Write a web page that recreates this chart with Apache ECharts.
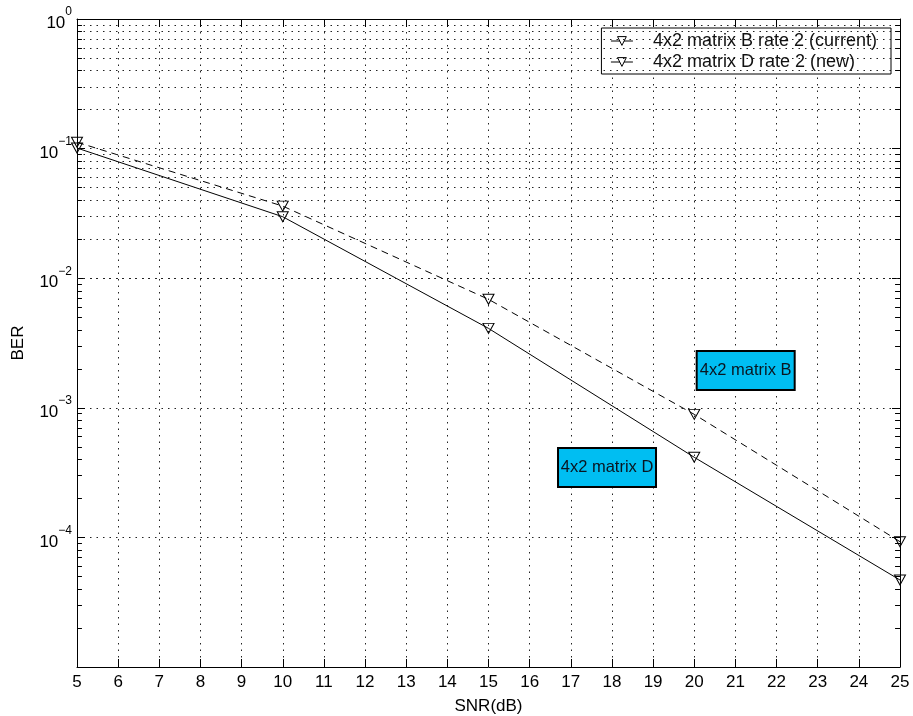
<!DOCTYPE html>
<html>
<head>
<meta charset="utf-8">
<script src="https://cdn.jsdelivr.net/npm/echarts@6/dist/echarts.min.js"></script>
<style>
  html, body { margin: 0; padding: 0; background: #fff; }
  #main { width: 913px; height: 716px; }
</style>
</head>
<body>
<div id="main"></div>
<script>
// SNR points (dB)
var snr = [5, 10, 15, 20, 25];
// BER readings
var berB = [0.112, 0.036, 0.00687, 0.00089, 0.0000927];
var berD = [0.101, 0.0298, 0.0041, 0.000415, 0.0000469];
var nameB = '4x2 matrix B rate 2 (current)';
var nameD = '4x2 matrix D rate 2 (new)';
// text boxes, in data units [snr, ber]
var boxB = [21.25, 0.00194];
var boxD = [17.88, 0.000346];
var yMin = 1e-5, yMax = 1;

// minor decade lines 2..9 x 10^k
var minorVals = [];
for (var e = -5; e < 0; e++) {
  for (var m = 2; m <= 9; m++) {
    minorVals.push(m * Math.pow(10, e));
  }
}

var dotted = [1.5, 5];
var FONT = '"Liberation Sans", Arial, sans-serif';

function pairs(xs, ys) {
  return xs.map(function (x, i) { return [x, ys[i]]; });
}

function yLabel(value) {
  var exp = Math.round(Math.log10(value));
  if (exp === -5) return '';
  return '{b|10}{s|' + (exp === 0 ? '0' : '\u2212' + (-exp)) + '}';
}

function boxMark(coord, text) {
  return {
    silent: true,
    symbol: 'rect',
    symbolSize: 1,
    itemStyle: { color: 'rgba(0,0,0,0)', borderWidth: 0 },
    label: {
      show: true, position: 'inside', formatter: text,
      fontSize: 16.5, color: '#0a1520', fontFamily: FONT,
      backgroundColor: '#00BEF2', borderColor: '#000', borderWidth: 2,
      width: 96, height: 37, lineHeight: 37, align: 'center', verticalAlign: 'middle', padding: 0
    },
    data: [{ coord: coord }]
  };
}

var myChart = echarts.init(document.getElementById('main'));
var option = {
  animation: false,
  backgroundColor: '#fff',
  textStyle: { fontFamily: FONT },
  grid: { left: 77, right: 13, top: 19, bottom: 49, outerBoundsMode: 'none', containLabel: false },
  legend: {
    orient: 'vertical',
    right: 22,
    top: 28,
    data: [nameB, nameD],
    backgroundColor: '#fff',
    borderColor: '#000',
    borderWidth: 1,
    borderRadius: 0,
    padding: [4, 14, 3, 9],
    itemGap: 3,
    itemWidth: 22,
    itemHeight: 11,
    itemStyle: { color: '#fff', borderColor: '#000', borderWidth: 1 },
    lineStyle: { type: 'solid', width: 1, color: '#000' },
    textStyle: { fontSize: 18, color: '#111', fontFamily: FONT, padding: [0, 0, 0, 15] }
  },
  xAxis: [
    {
      type: 'value', min: 5, max: 25, interval: 1,
      name: 'SNR(dB)', nameLocation: 'middle', nameGap: 31,
      nameTextStyle: { fontSize: 17, color: '#000', fontFamily: FONT },
      axisLine: { show: true, lineStyle: { color: '#000', width: 1 } },
      axisTick: { show: true, inside: true, length: 8, lineStyle: { color: '#000' } },
      axisLabel: { fontSize: 17, color: '#000', margin: 7, fontFamily: FONT },
      splitLine: { show: true, lineStyle: { type: dotted, color: '#222', width: 1 } }
    },
    {
      type: 'value', min: 5, max: 25, interval: 1, position: 'top',
      axisLine: { show: true, lineStyle: { color: '#000', width: 1 } },
      axisTick: { show: true, inside: true, length: 8, lineStyle: { color: '#000' } },
      axisLabel: { show: false },
      splitLine: { show: false }
    }
  ],
  yAxis: [
    {
      type: 'log', logBase: 10, min: yMin, max: yMax,
      name: 'BER', nameLocation: 'middle', nameGap: 50,
      nameTextStyle: { fontSize: 17, color: '#000', fontFamily: FONT },
      axisLine: { show: true, lineStyle: { color: '#000', width: 1 } },
      axisTick: { show: true, inside: true, length: 8, lineStyle: { color: '#000' } },
      axisLabel: {
        formatter: yLabel, margin: 5,
        rich: {
          b: { fontSize: 17, color: '#000', lineHeight: 26, verticalAlign: 'bottom', fontFamily: FONT },
          s: { fontSize: 12, color: '#000', lineHeight: 12, verticalAlign: 'top', fontFamily: FONT }
        }
      },
      splitLine: { show: true, lineStyle: { type: dotted, color: '#222', width: 1 } }
    },
    {
      type: 'log', logBase: 10, min: yMin, max: yMax, position: 'right',
      axisLine: { show: true, lineStyle: { color: '#000', width: 1 } },
      axisTick: { show: true, inside: true, length: 8, lineStyle: { color: '#000' } },
      axisLabel: { show: false },
      splitLine: { show: false }
    }
  ],
  series: [
    {
      // minor grid lines
      name: 'minor',
      type: 'line',
      data: [],
      silent: true,
      z: 1,
      markLine: {
        silent: true,
        symbol: 'none',
        label: { show: false },
        lineStyle: { type: dotted, color: '#222', width: 1 },
        data: minorVals.map(function (v) { return { yAxis: v }; })
      }
    },
    {
      // minor ticks, left and right
      name: 'minorTicks',
      type: 'line',
      data: [],
      silent: true,
      z: 1,
      markLine: {
        silent: true,
        symbol: 'none',
        label: { show: false },
        lineStyle: { type: 'solid', color: '#000', width: 1 },
        data: minorVals.map(function (v) { return [{ coord: [5, v] }, { coord: [5.12, v] }]; })
          .concat(minorVals.map(function (v) { return [{ coord: [24.88, v] }, { coord: [25, v] }]; }))
      }
    },
    {
      name: nameB,
      type: 'line',
      data: pairs(snr, berB),
      symbol: 'triangle',
      symbolRotate: 180,
      symbolSize: [11, 10],
      showAllSymbol: true,
      z: 3,
      lineStyle: { color: '#000', width: 1, type: [7, 5] },
      itemStyle: { color: 'rgba(255,255,255,0)', borderColor: '#000', borderWidth: 1 },
      markPoint: boxMark(boxB, '4x2 matrix B')
    },
    {
      name: nameD,
      type: 'line',
      data: pairs(snr, berD),
      symbol: 'triangle',
      symbolRotate: 180,
      symbolSize: [11, 10],
      showAllSymbol: true,
      z: 3,
      lineStyle: { color: '#000', width: 1, type: 'solid' },
      itemStyle: { color: 'rgba(255,255,255,0)', borderColor: '#000', borderWidth: 1 },
      markPoint: boxMark(boxD, '4x2 matrix D')
    }
  ]
};
myChart.setOption(option);
</script>
</body>
</html>
